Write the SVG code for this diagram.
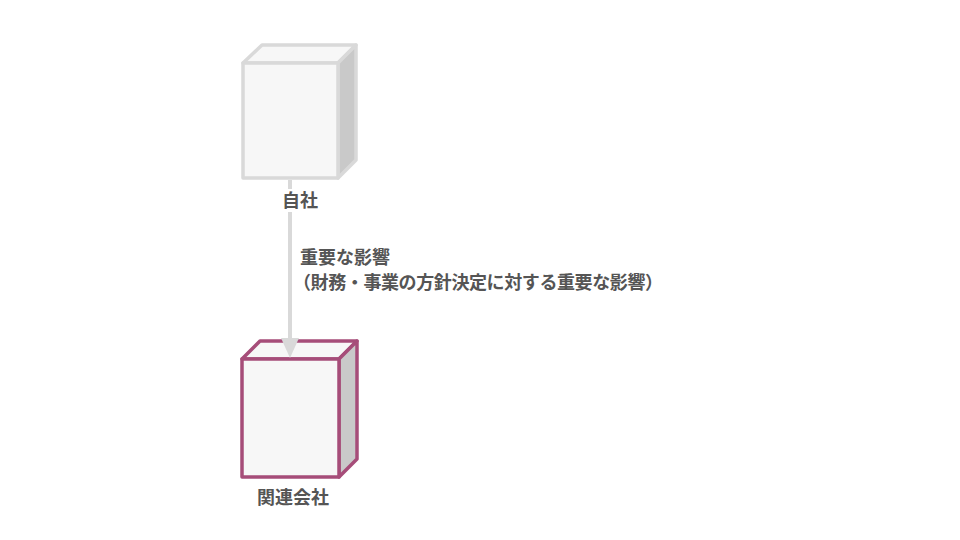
<svg xmlns="http://www.w3.org/2000/svg" width="960" height="540" viewBox="0 0 960 540">
<style>
.front{fill:#f7f7f7}
.top{fill:#f7f7f7}
.side{fill:#c9c9c9}
.g{stroke:#d9d9d9;stroke-width:3.5;stroke-linejoin:round}
.p{stroke:#a64d79;stroke-width:3.5;stroke-linejoin:round}
.lbl{font-family:"Liberation Sans","Noto Sans CJK JP",sans-serif;font-size:18px;font-weight:bold;fill:#555555}
</style>
<rect width="960" height="540" fill="#ffffff"/>
<g id="node-kanren">
<polygon class="top p" points="242,359 260,341 357,341 339,359"/>
<polygon class="side p" points="339,359 357,341 357,459 339,477"/>
<rect class="front p" x="242" y="359" width="97" height="118"/>
<text class="lbl" x="293" y="504" text-anchor="middle">関連会社</text>
</g>
<g id="connectors">
<line x1="290" y1="180" x2="290" y2="340" stroke="#d9d9d9" stroke-width="4"/>
<polygon points="281,338 299,338 290,358" fill="#d9d9d9"/>
<text class="lbl" x="300" y="264">重要な影響</text>
<text class="lbl" x="293" y="289" textLength="370" lengthAdjust="spacing">（財務・事業の方針決定に対する重要な影響）</text>
</g>
<g id="node-jisha">
<polygon class="top g" points="243,63 262,45 356,45 338,63"/>
<polygon class="side g" points="338,63 356,45 356,160 338,178"/>
<rect class="front g" x="243" y="63" width="95" height="115"/>
<rect x="280" y="189" width="42" height="23" fill="#ffffff"/>
<text class="lbl" x="300" y="207" text-anchor="middle">自社</text>
</g>
</svg>
